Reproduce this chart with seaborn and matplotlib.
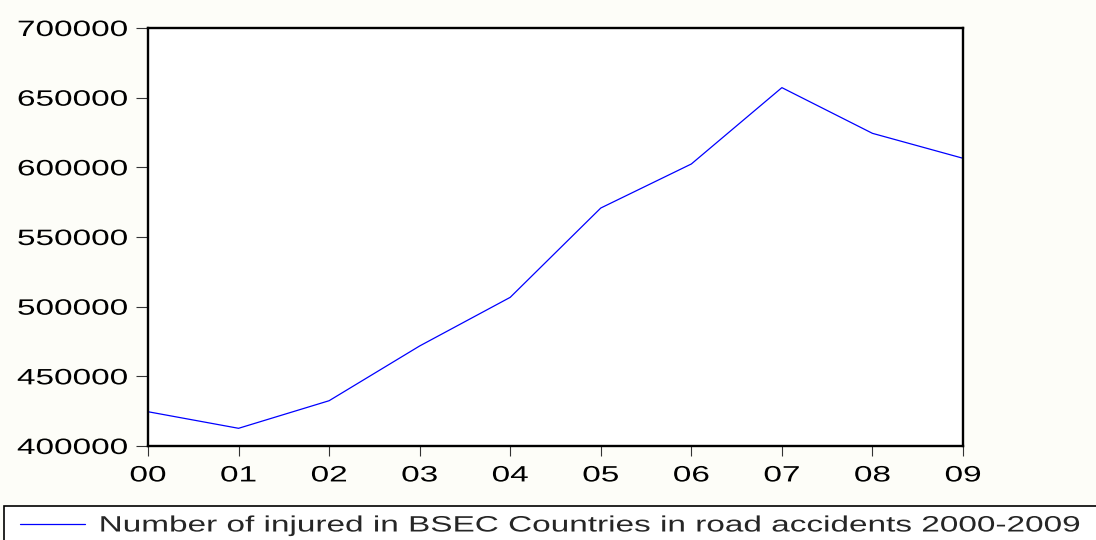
import matplotlib
matplotlib.use("Agg")
import matplotlib.pyplot as plt
import matplotlib.patheffects as pe
from matplotlib.legend_handler import HandlerLine2D
from matplotlib.lines import Line2D
from matplotlib.transforms import Affine2D
import seaborn as sns
import pandas as pd

# data
years = ["00", "01", "02", "03", "04", "05", "06", "07", "08", "09"]
injured = [424600, 412700, 432500, 471800, 506700, 570800, 602400, 657200, 624400, 606500]
y_ticks = [400000, 450000, 500000, 550000, 600000, 650000, 700000]
series_name = "Number of injured in BSEC Countries in road accidents 2000-2009"


class Stretch(pe.AbstractPathEffect):
    """Widen glyphs horizontally (the reference uses a very wide font)."""

    def __init__(self, sx, anchor="left"):
        super().__init__()
        self.sx = sx
        self.anchor = anchor

    def draw_path(self, renderer, gc, tpath, affine, rgbFace=None):
        ext = tpath.get_extents()
        a = {"left": ext.x0, "right": ext.x1, "center": (ext.x0 + ext.x1) / 2}[self.anchor]
        stretch = Affine2D().translate(-a, 0).scale(self.sx, 1).translate(a, 0)
        renderer.draw_path(gc, tpath, stretch + affine, rgbFace)


def main():
    sns.set_style("white")
    plt.rcParams["font.family"] = ["Liberation Sans", "DejaVu Sans"]

    df = pd.DataFrame({"idx": range(len(years)), "injured": injured})

    fig = plt.figure(figsize=(10.96, 5.40), dpi=100, facecolor="#fdfdf8")
    ax = fig.add_axes([148 / 1096, 1 - 446 / 540, (963 - 148) / 1096, (446 - 28) / 540])
    ax.set_facecolor("white")

    sns.lineplot(data=df, x="idx", y="injured", ax=ax, color="#0000ff",
                 linewidth=0.9, label=series_name, legend=False)

    ax.set_xlim(0, len(years) - 1)
    ax.set_ylim(y_ticks[0], y_ticks[-1])
    ax.set_xticks(range(len(years)))
    ax.set_xticklabels(years)
    ax.set_yticks(y_ticks)
    ax.set_yticklabels([str(v) for v in y_ticks])
    ax.set_xlabel("")
    ax.set_ylabel("")

    for side in ["left", "right", "top", "bottom"]:
        ax.spines[side].set_visible(True)
        ax.spines[side].set_color("black")
        ax.spines[side].set_linewidth(1.7)

    ax.tick_params(axis="y", left=True, length=9, width=0.8, color="#333333",
                   pad=5.5, labelsize=16, labelcolor="black")
    ax.tick_params(axis="x", bottom=True, length=7.5, width=0.8, color="#333333",
                   pad=6.5, labelsize=16, labelcolor="black")

    for lbl in ax.get_yticklabels():
        lbl.set_path_effects([Stretch(1.5, "right")])
    for lbl in ax.get_xticklabels():
        lbl.set_path_effects([Stretch(1.5, "center")])

    handles, labels = ax.get_legend_handles_labels()
    leg = fig.legend(handles, labels, loc="upper left", mode="expand",
                     bbox_to_anchor=(4 / 1096, 1 - 505.5 / 540, 1.2, 0),
                     fontsize=16, frameon=True, fancybox=False, framealpha=1,
                     facecolor="white", edgecolor="black", borderpad=0.45,
                     handlelength=3.2, handletextpad=0.65, borderaxespad=0,
                     handler_map={Line2D: HandlerLine2D(xpad=0.27)})
    leg.get_frame().set_linewidth(1.2)
    for t in leg.get_texts():
        t.set_path_effects([Stretch(1.5, "left")])

    fig.savefig("out.png", dpi=100, facecolor=fig.get_facecolor())


if __name__ == '__main__':
    main()
